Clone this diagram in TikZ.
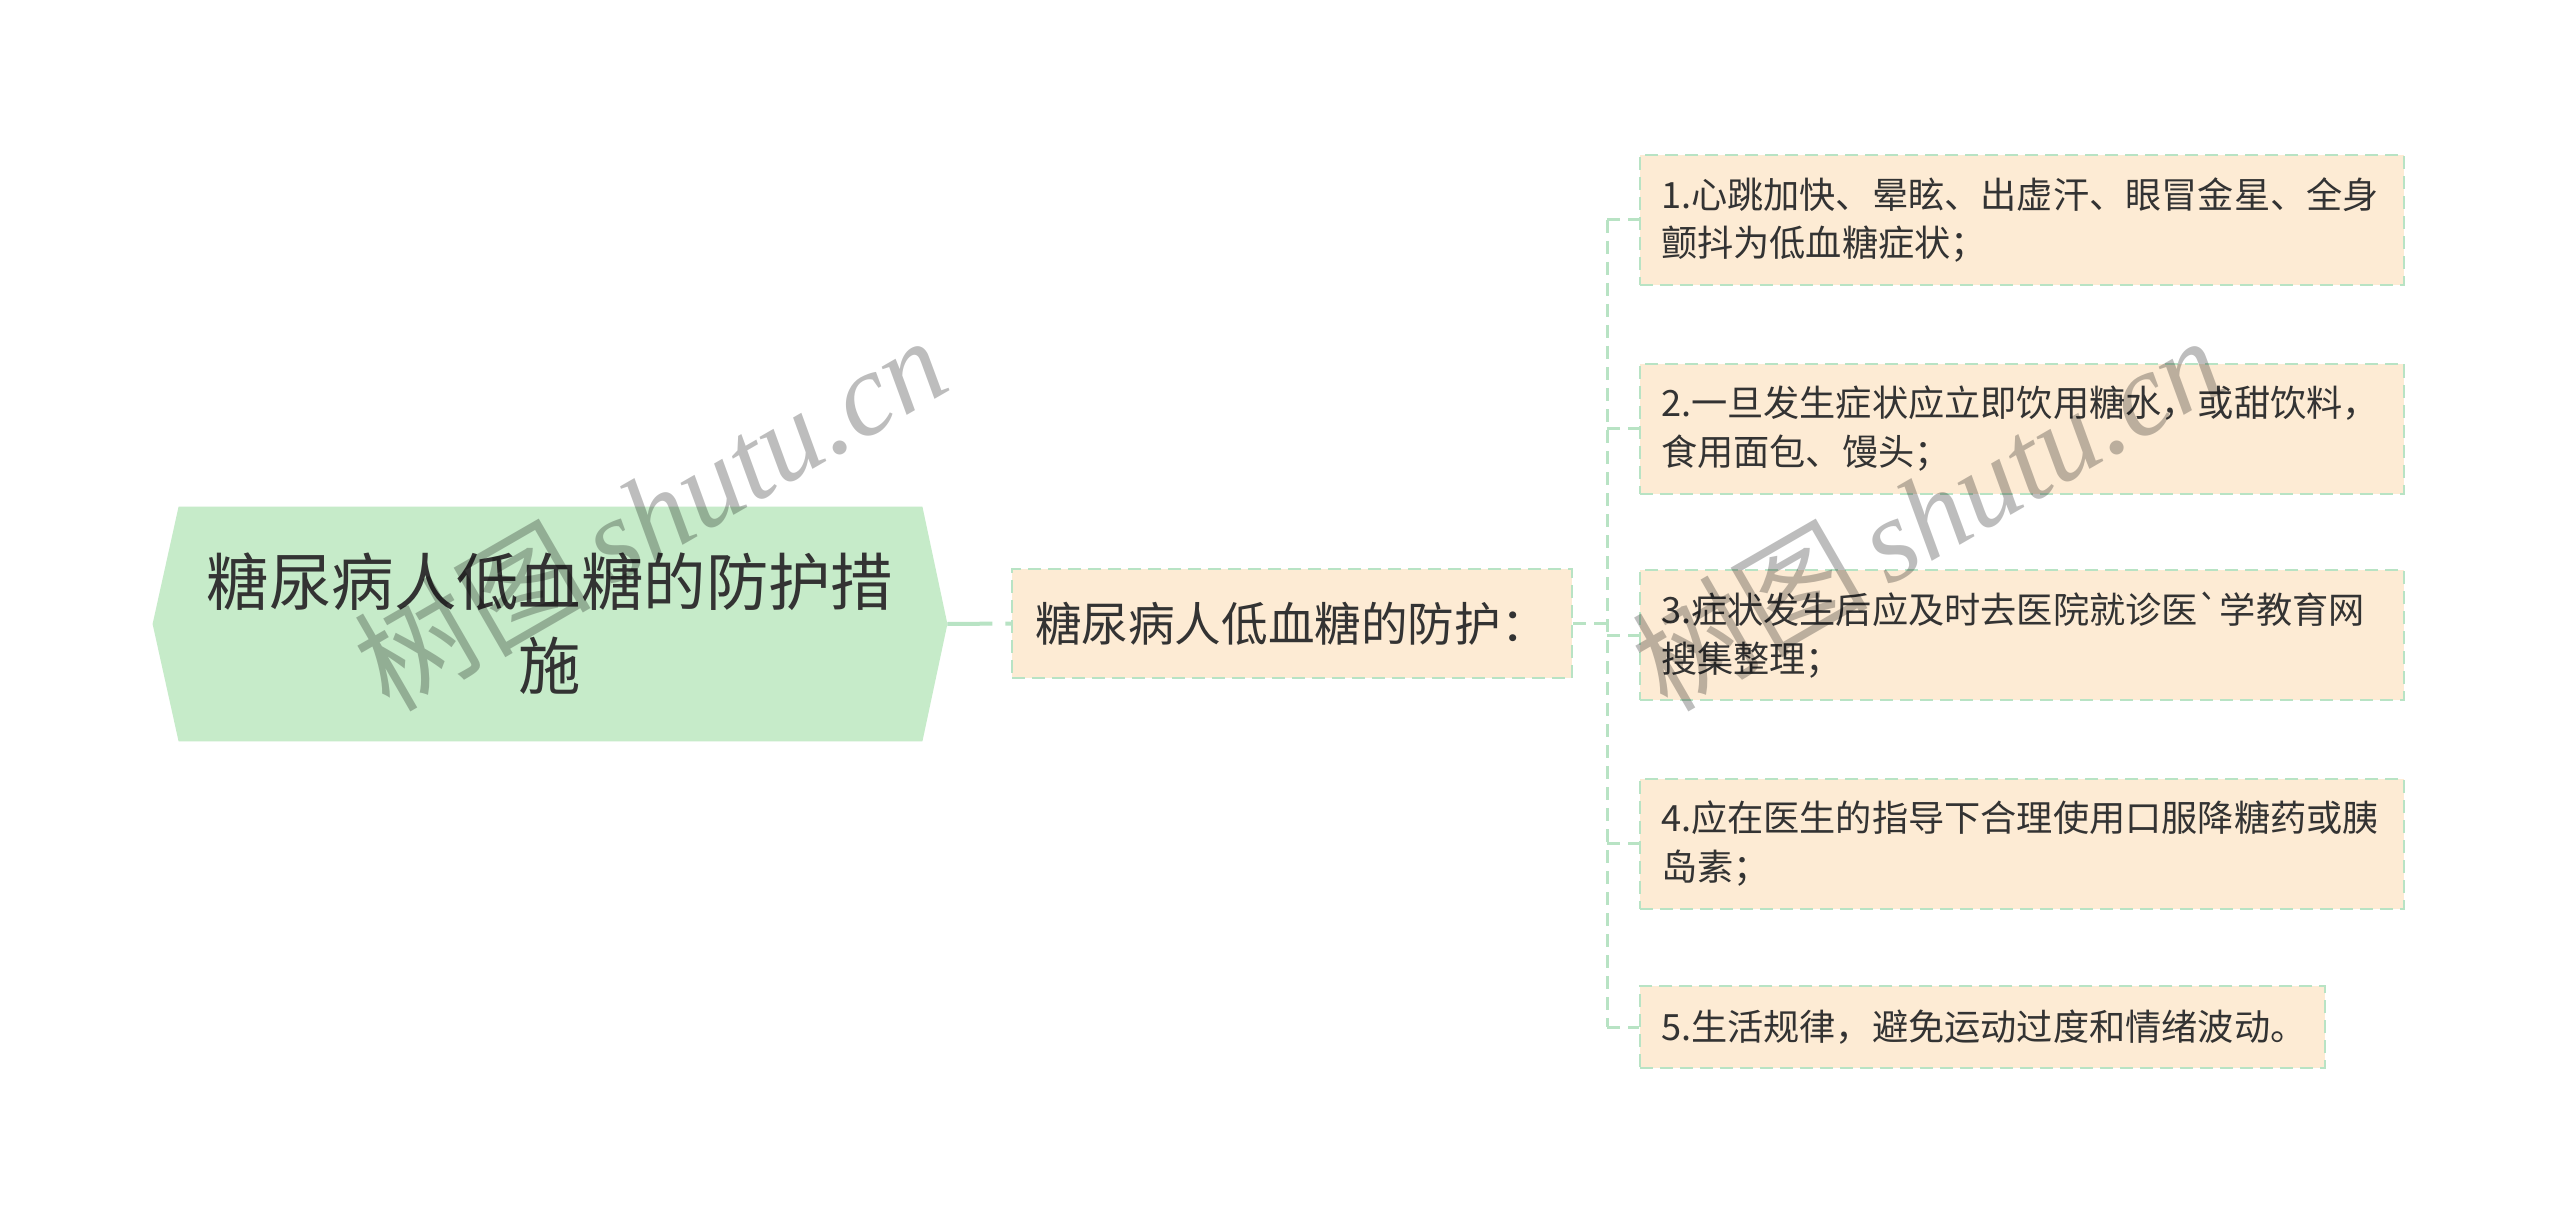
\documentclass[tikz,border=0pt]{standalone}
\usepackage{fontspec}
\setmainfont{Noto Sans CJK SC}[Ligatures=TeXOff]
\newfontfamily\cjkfont{Noto Sans CJK SC}
\newfontfamily\wmfont{Liberation Serif}
\usetikzlibrary{calc}
\definecolor{rootfill}{RGB}{198,235,201}
\definecolor{boxfill}{RGB}{253,235,212}
\definecolor{edgegreen}{RGB}{184,227,196}
\definecolor{txt}{RGB}{51,51,51}
\pgfdeclarelayer{bg}
\pgfsetlayers{bg,main}
\tikzset{
  rootnode/.style={inner sep=0pt, minimum width=397pt, minimum height=117pt, align=center, text=txt,
    font=\fontsize{31.2pt}{42pt}\selectfont},
  midnode/.style={draw=edgegreen, line width=1pt, dash pattern=on 6.5pt off 3.5pt, fill=boxfill,
    text=txt, font=\fontsize{23.3pt}{28pt}\selectfont, align=left, inner xsep=11.5pt, inner ysep=0pt,
    text width=257pt, minimum height=54.5pt},
  itembox/.style={draw=edgegreen, line width=1pt, dash pattern=on 6.5pt off 3.5pt, fill=boxfill,
    text=txt, font=\fontsize{18.1pt}{24.3pt}\selectfont, align=left, inner xsep=10.5pt, inner ysep=0pt,
    text width=361pt, minimum height=65pt},
  conn/.style={draw=edgegreen, line width=1.5pt, dash pattern=on 6.5pt off 4pt},
  rootconn/.style={draw=edgegreen, line width=2pt, dash pattern=on 22.5pt off 6.5pt},
  wm/.style={text=black, text opacity=0.26, inner sep=0pt, font=\fontsize{59pt}{60pt}\selectfont}
}
\begin{document}
\begin{tikzpicture}[x=0.5pt, y=-0.5pt]
\begin{pgfonlayer}{bg}
\fill[white] (0,0) rectangle (2560,1225);
\end{pgfonlayer}
\useasboundingbox (0,0) rectangle (2560,1225);

% root
\node[rootnode] (root) at (550,624) {糖尿病人低血糖的防护措\\施};
\begin{pgfonlayer}{bg}
\fill[rootfill] (root.west) -- ([xshift=13pt]root.north west) -- ([xshift=-12.5pt]root.north east)
  -- (root.east) -- ([xshift=-12.5pt]root.south east) -- ([xshift=13pt]root.south west) -- cycle;
\end{pgfonlayer}

% middle
\node[midnode] (mid) at (1292,623.5) {糖尿病人低血糖的防护：};

% items
\node[itembox] (i1) at (2022,220) {1.心跳加快、晕眩、出虚汗、眼冒金星、全身\\颤抖为低血糖症状；};
\node[itembox] (i2) at (2022,428.5) {2.一旦发生症状应立即饮用糖水，或甜饮料，\\食用面包、馒头；};
\node[itembox] (i3) at (2022,635) {3.症状发生后应及时去医院就诊医`学教育网\\搜集整理；};
\node[itembox] (i4) at (2022,843.5) {4.应在医生的指导下合理使用口服降糖药或胰\\岛素；};
\node[itembox, text width=321.5pt, minimum height=41pt] (i5) at (1982.5,1027) {5.生活规律，避免运动过度和情绪波动。};

% connectors
\coordinate (tt) at (1607,220);
\draw[rootconn] (root.east) -- (mid.west);
\draw[conn] (mid.east) -- (mid.east -| tt);
\draw[conn] (i1.west -| tt) -- (i5.west -| tt);
\foreach \i in {1,...,5} \draw[conn] (i\i.west -| tt) -- (i\i.west);

% watermarks
\node[wm, rotate=30] (wm1) at (650,512) {\cjkfont 树图\,\wmfont\itshape shutu.cn};
\node[wm, rotate=30] (wm2) at (1927,512) {\cjkfont 树图\,\wmfont\itshape shutu.cn};
\end{tikzpicture}
\end{document}
